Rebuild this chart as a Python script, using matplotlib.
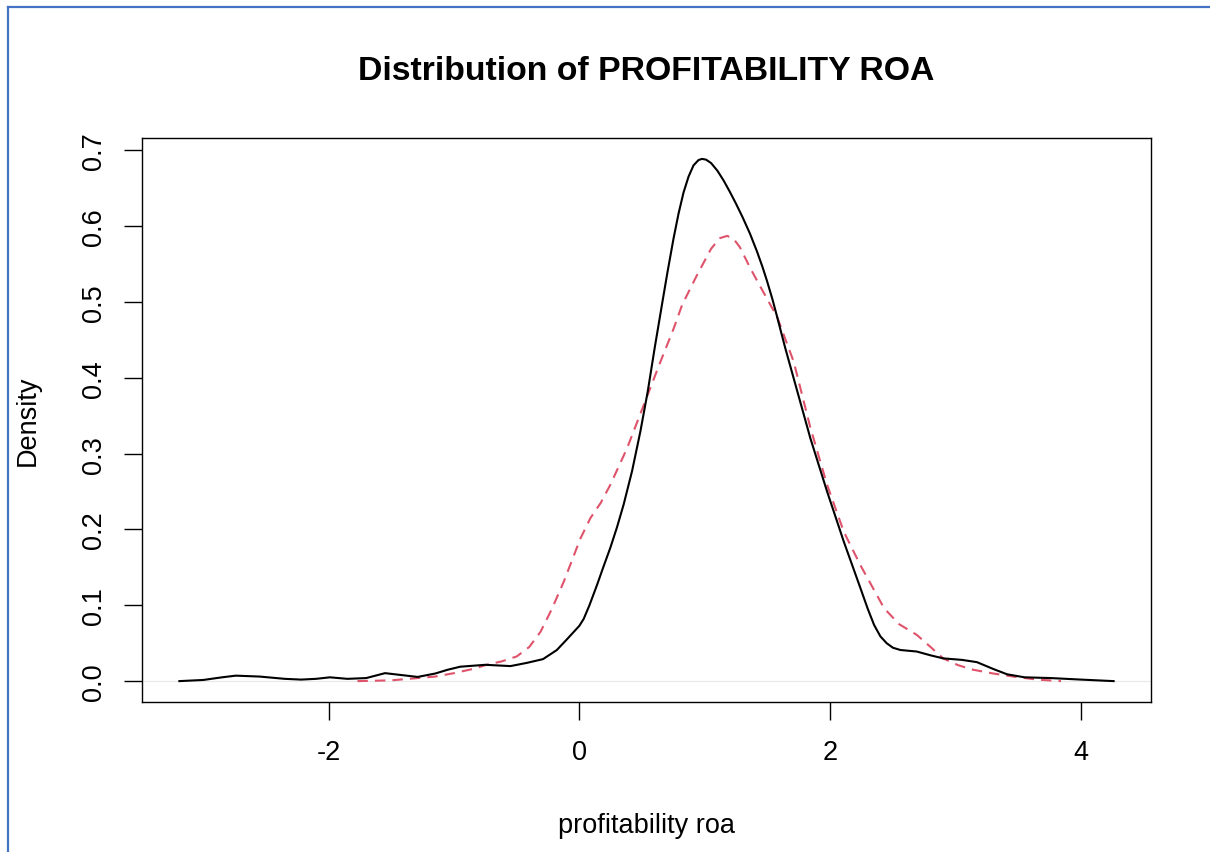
import matplotlib
matplotlib.use("Agg")
import matplotlib.pyplot as plt
from matplotlib.lines import Line2D

plt.rcParams['font.family'] = ['Liberation Sans', 'DejaVu Sans']

# Kernel density estimate of ROA (solid black)
roa_x = [-3.19, -3.00, -2.85, -2.74, -2.55, -2.35, -2.22, -2.10, -1.99, -1.85,
         -1.70, -1.55, -1.42, -1.29, -1.15, -1.05, -0.95, -0.75, -0.55, -0.42,
         -0.29, -0.18, -0.10, -0.05, 0.00, 0.034, 0.08, 0.141, 0.19, 0.247,
         0.30, 0.353, 0.42, 0.486, 0.545, 0.601, 0.659, 0.70, 0.75, 0.79,
         0.83, 0.87, 0.91, 0.95, 0.978, 1.01, 1.05, 1.10, 1.15, 1.20,
         1.25, 1.30, 1.36, 1.417, 1.46, 1.497, 1.54, 1.577, 1.64, 1.709,
         1.842, 1.975, 2.108, 2.24, 2.30, 2.35, 2.40, 2.45, 2.50, 2.56,
         2.69, 2.80, 2.90, 3.05, 3.17, 3.30, 3.41, 3.55, 3.76, 4.00, 4.26]
roa_y = [0.000, 0.0015, 0.005, 0.0072, 0.006, 0.003, 0.002, 0.003, 0.005, 0.003,
         0.004, 0.0105, 0.008, 0.0055, 0.010, 0.015, 0.019, 0.0215, 0.0198, 0.024,
         0.029, 0.041, 0.055, 0.064, 0.073, 0.082, 0.100, 0.127, 0.150, 0.176,
         0.203, 0.233, 0.277, 0.329, 0.382, 0.440, 0.497, 0.537, 0.583, 0.616,
         0.644, 0.665, 0.680, 0.687, 0.6885, 0.6875, 0.683, 0.673, 0.660, 0.645,
         0.629, 0.612, 0.590, 0.566, 0.546, 0.527, 0.503, 0.480, 0.440, 0.399,
         0.320, 0.250, 0.184, 0.123, 0.095, 0.074, 0.059, 0.050, 0.044, 0.041,
         0.039, 0.034, 0.030, 0.028, 0.025, 0.016, 0.009, 0.005, 0.004, 0.002, 0.000]

# Reference density (dashed red)
ref_x = [-1.77, -1.50, -1.29, -1.15, -1.00, -0.85, -0.74, -0.62, -0.50, -0.40,
         -0.31, -0.22, -0.125, 0.008, 0.088, 0.17, 0.247, 0.38, 0.513, 0.646,
         0.752, 0.819, 0.94, 1.05, 1.12, 1.178, 1.23, 1.28, 1.364, 1.443,
         1.577, 1.709, 1.842, 1.975, 2.108, 2.24, 2.43, 2.55, 2.69, 2.80,
         2.90, 3.02, 3.14, 3.30, 3.46, 3.65, 3.84]
ref_y = [0.000, 0.001, 0.004, 0.006, 0.0105, 0.016, 0.0215, 0.026, 0.0325, 0.045,
         0.065, 0.095, 0.131, 0.188, 0.215, 0.235, 0.259, 0.307, 0.364, 0.421,
         0.465, 0.496, 0.536, 0.570, 0.584, 0.587, 0.583, 0.572, 0.544, 0.520,
         0.480, 0.421, 0.334, 0.259, 0.197, 0.153, 0.096, 0.075, 0.061, 0.045,
         0.030, 0.021, 0.015, 0.010, 0.006, 0.002, 0.000]

x_ticks = [-2, 0, 2, 4]
y_ticks = [0.0, 0.1, 0.2, 0.3, 0.4, 0.5, 0.6, 0.7]

W, H = 1210, 853
fig = plt.figure(figsize=(W / 100, H / 100), dpi=100)
fig.patch.set_facecolor('white')

# plot region in pixel coordinates
left, right, top, bottom = 142, 1151, 139, 703
ax = fig.add_axes([left / W, 1 - bottom / H, (right - left) / W, (bottom - top) / H])

ax.axhline(0, color='#e8e8e8', lw=0.8, zorder=1)
ax.plot(roa_x, roa_y, color='black', lw=1.5, zorder=3)
ax.plot(ref_x, ref_y, color='#DF536B', lw=1.5, linestyle=(0, (5.0, 3.4)), zorder=2)

xr = max(roa_x) - min(roa_x)
ax.set_xlim(min(roa_x) - 0.04 * xr, max(roa_x) + 0.04 * xr)
yr = max(roa_y)
ax.set_ylim(-0.04 * yr, yr * 1.04)

ax.set_xticks(x_ticks)
ax.set_xticklabels([str(t) for t in x_ticks])
ax.set_yticks(y_ticks)
ax.set_yticklabels([f"{t:.1f}" for t in y_ticks], rotation=90, va='center')

ax.tick_params(direction='out', length=13, width=1.0, labelsize=19.5, color='black')
ax.tick_params(axis='x', pad=14)
ax.tick_params(axis='y', pad=12)
for s in ax.spines.values():
    s.set_linewidth(1.0)
    s.set_color('black')

fs = 19.5
ax.set_xlabel('profitability roa', fontsize=fs, va='center')
ax.xaxis.set_label_coords(0.5, (bottom - 826) / (bottom - top))
ax.set_ylabel('Density', fontsize=fs, va='center')
ax.yaxis.set_label_coords((28 - left) / (right - left), 0.5)

fig.text((left + right) / 2 / W, 1 - 72 / H, 'Distribution of PROFITABILITY ROA',
         fontsize=24.3, fontweight='bold', ha='center', va='center')

# blue frame lines along the top and left edges
blue = '#4472C4'
fig.add_artist(Line2D([8 / W, 1.0], [1 - 8 / H, 1 - 8 / H], color=blue, lw=1.6,
                      transform=fig.transFigure))
fig.add_artist(Line2D([8 / W, 8 / W], [0.0, 1 - 8 / H], color=blue, lw=1.6,
                      transform=fig.transFigure))

fig.savefig('out.png', dpi=100)
